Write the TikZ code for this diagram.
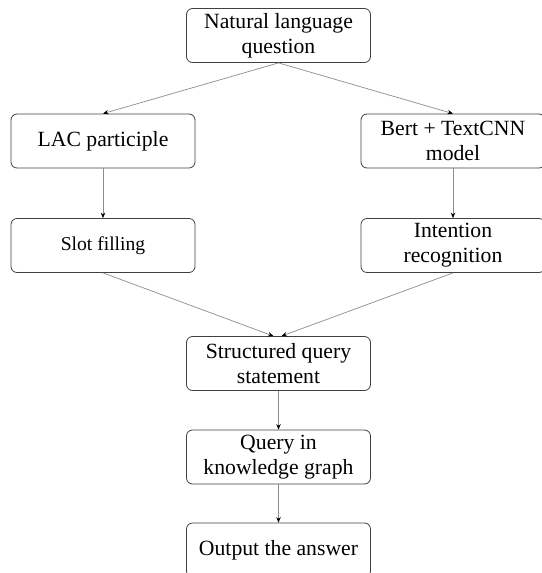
\documentclass[tikz,border=0pt]{standalone}
\usepackage{fontspec}
\setmainfont{Liberation Serif}
\usetikzlibrary{arrows.meta}

\tikzset{
  stage/.style={draw=black!75, line width=0.8pt, rounded corners=6pt,
    minimum width=184pt, minimum height=54pt, inner sep=2pt, align=center,
    font=\fontsize{21.7}{25}\selectfont},
  flow/.style={draw=black!45, line width=0.7pt,
    -{Stealth[length=5.5pt,width=4.5pt,black]}}
}

\begin{document}
\begin{tikzpicture}[x=1pt,y=-1pt]
\useasboundingbox (0,0) rectangle (541,573);

\node[stage] (nlq) at (278.5,35.5) {Natural language\\question};
\node[stage] (lac) at (103,141) {LAC participle};
\node[stage] (bert) at (453,141) {Bert + TextCNN\\model};
\node[stage, font=\fontsize{19.6}{23}\selectfont] (slot) at (103,245.5) {Slot filling};
\node[stage] (intent) at (453,245.5) {Intention\\recognition};
\node[stage] (sqs) at (278.5,363.5) {Structured query\\statement};
\node[stage] (qkg) at (278.5,457) {Query in\\knowledge graph};
\node[stage] (ans) at (278.5,550) {Output the answer};

\draw[flow] (nlq.south) -- (lac.north);
\draw[flow] (nlq.south) -- (bert.north);
\draw[flow] (lac) -- (slot);
\draw[flow] (bert) -- (intent);
\draw[flow] (slot.south) -- ([xshift=-5pt]sqs.north);
\draw[flow] (intent.south) -- ([xshift=3pt]sqs.north);
\draw[flow] (sqs) -- (qkg);
\draw[flow] (qkg) -- (ans);
\end{tikzpicture}
\end{document}
